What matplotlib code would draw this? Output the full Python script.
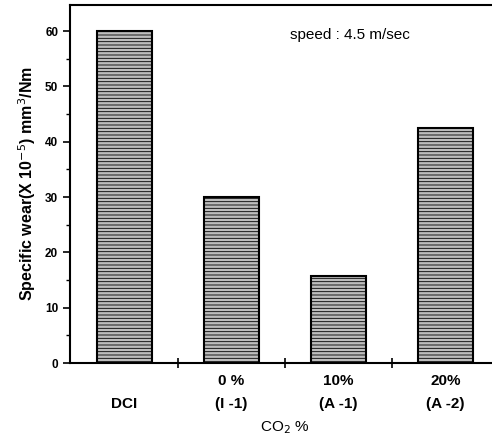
import matplotlib.pyplot as plt

plt.rcParams['font.family'] = ['Liberation Sans', 'DejaVu Sans']
plt.rcParams['hatch.linewidth'] = 0.6
plt.rcParams['hatch.color'] = '#444444'

# datos
categorias = ['\nDCI', '0 %\n(I -1)', '10%\n(A -1)', '20%\n(A -2)']
desgaste = [60.0, 30.0, 15.7, 42.5]
posiciones = [1, 2, 3, 4]

fig = plt.figure(figsize=(4.92, 4.41), dpi=100)
ax = fig.add_axes([70/492, 1 - 363/441, 429/492, 358/441])

ax.bar(posiciones, desgaste, width=0.51, facecolor='#bdbdbd',
       edgecolor='black', linewidth=1.5, hatch='-----')

ax.set_xlim(0.49, 4.5)
ax.set_ylim(0, 64.7)

ax.set_yticks([0, 10, 20, 30, 40, 50, 60])
ax.set_yticks([5, 15, 25, 35, 45, 55], minor=True)
ax.tick_params(axis='y', which='major', direction='out', length=5, width=1.2,
               labelsize=8.5)
ax.tick_params(axis='y', which='minor', direction='out', length=3, width=1)
for lbl in ax.get_yticklabels():
    lbl.set_fontweight('bold')

ax.set_xticks([1.5, 2.5, 3.5])
ax.set_xticklabels([])
ax.set_xticks(posiciones, minor=True)
ax.set_xticklabels(categorias, minor=True, fontsize=11, fontweight='bold',
                   linespacing=1.8)
ax.tick_params(axis='x', which='major', direction='inout', length=7, width=1.2)
ax.tick_params(axis='x', which='minor', length=0, pad=8)

for s in ax.spines.values():
    s.set_linewidth(1.5)

ax.set_ylabel('Specific wear(X 10$^{-5}$) mm$^3$/Nm', fontsize=11.5,
              fontweight='bold', labelpad=5)
ax.set_xlabel('CO$_2$ %', fontsize=11, labelpad=6)

ax.text(2.55, 59.3, 'speed : 4.5 m/sec', fontsize=11, va='center')

fig.savefig('out.png', dpi=100)
